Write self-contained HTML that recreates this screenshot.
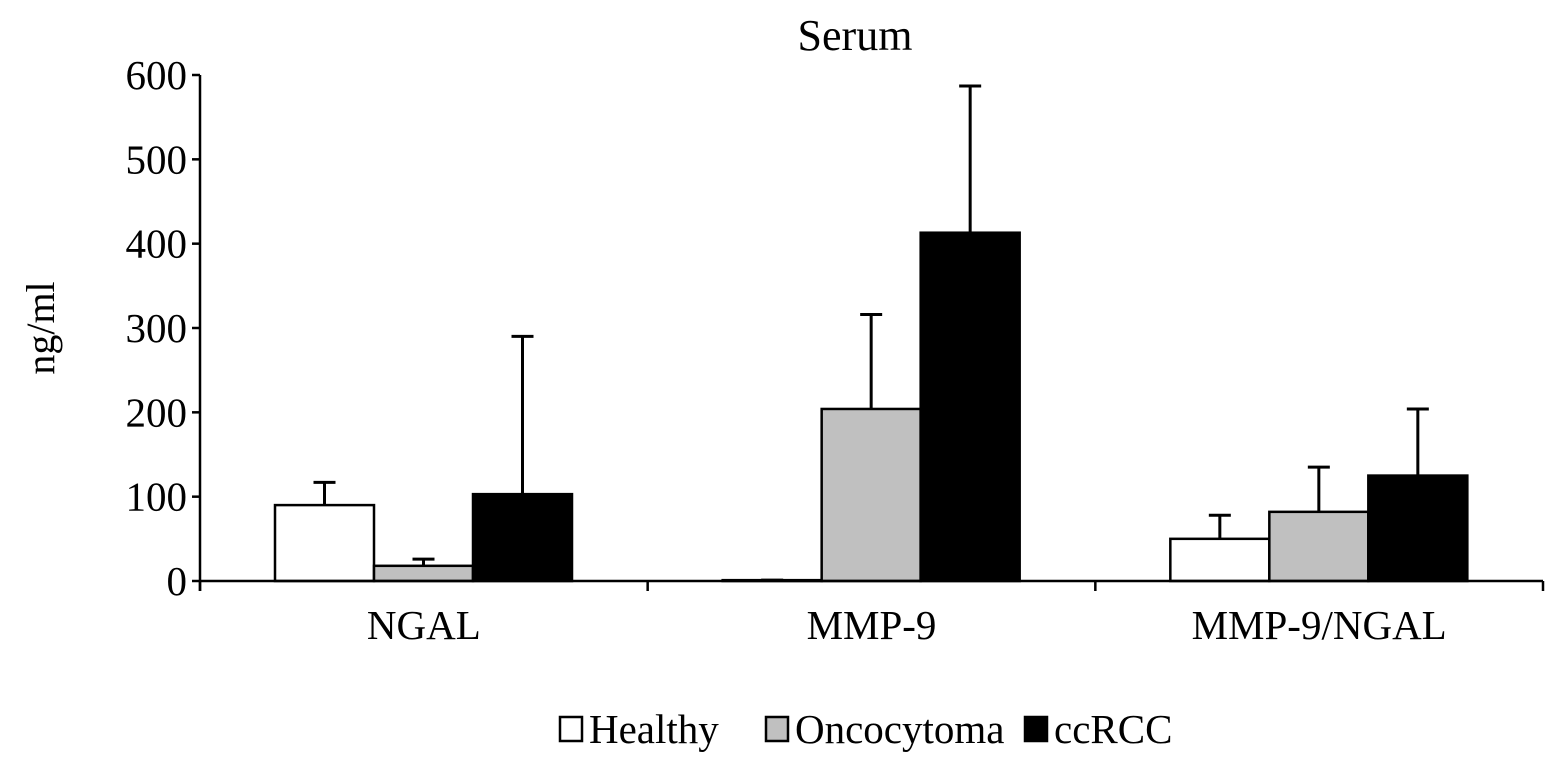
<!DOCTYPE html>
<html><head><meta charset="utf-8"><style>
html,body{margin:0;padding:0;background:#fff;}
svg{display:block;font-family:"Liberation Serif",serif;}
</style></head><body>
<svg id="chart" width="1559" height="764" viewBox="0 0 1559 764"></svg>
<script>
const categories = ["NGAL", "MMP-9", "MMP-9/NGAL"];
const seriesNames = ["Healthy", "Oncocytoma", "ccRCC"];
const healthyValues = [90, 1, 50];
const oncocytomaValues = [18, 204, 82];
const ccrccValues = [103, 413, 125];
const healthyErrTop = [117, 1, 78];
const oncocytomaErrTop = [26, 316, 135];
const ccrccErrTop = [290, 587, 204];
const yTicks = [0, 100, 200, 300, 400, 500, 600];

const svg = document.getElementById('chart');
const NS = 'http://www.w3.org/2000/svg';
const x0 = 200, x1 = 1543, yBase = 581, yTopPx = 75, yMax = 600;
const catW = (x1 - x0) / categories.length;
const barW = 99, groupOff = 75;
const y = v => yBase - v / yMax * (yBase - yTopPx);
const fills = ["#ffffff", "#c0c0c0", "#000000"];
const values = [healthyValues, oncocytomaValues, ccrccValues];
const errs = [healthyErrTop, oncocytomaErrTop, ccrccErrTop];

function mk(tag, attrs, text) {
  const e = document.createElementNS(NS, tag);
  for (const k in attrs) e.setAttribute(k, attrs[k]);
  if (text !== undefined) e.textContent = text;
  svg.appendChild(e);
  return e;
}

let t = mk('text', {x: 855, y: 50, 'font-size': 44, 'text-anchor': 'middle'}, 'Serum');



t = mk('text', {x: 0, y: 0, 'font-size': 40, 'text-anchor': 'middle', transform: 'translate(54,328) rotate(-90)'}, 'ng/ml');



for (let s = 0; s < 3; s++) {
  for (let c = 0; c < categories.length; c++) {
    const bx = x0 + c * catW + groupOff + s * barW;
    const cx = bx + barW / 2;
    const ey = y(errs[s][c]);
    const ln = mk('line', {x1: cx, x2: cx, y1: y(values[s][c]), y2: ey, stroke: '#000', 'stroke-width': 3});
    
    
    const cap = mk('line', {x1: cx - 11, x2: cx + 11, y1: ey, y2: ey, stroke: '#000', 'stroke-width': 3});
    
    
    const r = mk('rect', {x: bx, y: y(values[s][c]), width: barW, height: yBase - y(values[s][c]), fill: fills[s], stroke: '#000', 'stroke-width': 2.5});
    
    
  }
}

let a = mk('line', {x1: x0, x2: x0, y1: yTopPx, y2: yBase + 10, stroke: '#000', 'stroke-width': 2.5});


a = mk('line', {x1: x0, x2: x1, y1: yBase, y2: yBase, stroke: '#000', 'stroke-width': 2.5});



yTicks.forEach(v => {
  const tk = mk('line', {x1: x0 - 8, x2: x0, y1: y(v), y2: y(v), stroke: '#000', 'stroke-width': 2.5});
  
  
  const lb = mk('text', {x: x0 - 13, y: y(v) + 14, 'font-size': 41, 'text-anchor': 'end'}, String(v));
  
  
});

for (let c = 0; c <= categories.length; c++) {
  const tk = mk('line', {x1: x0 + c * catW, x2: x0 + c * catW, y1: yBase, y2: yBase + 10, stroke: '#000', 'stroke-width': 2.5});
  
  
}
categories.forEach((cat, c) => {
  const lb = mk('text', {x: x0 + c * catW + catW / 2, y: 639, 'font-size': 41, 'text-anchor': 'middle'}, cat);
  
  
});

const legX = [560, 766, 1025];
seriesNames.forEach((n, s) => {
  const b = mk('rect', {x: legX[s], y: 717, width: 22, height: 24, fill: fills[s], stroke: '#000', 'stroke-width': 2.5});
  
  
  const l = mk('text', {x: legX[s] + 29, y: 743, 'font-size': 41}, n);
  
  
});
</script>
</body></html>
